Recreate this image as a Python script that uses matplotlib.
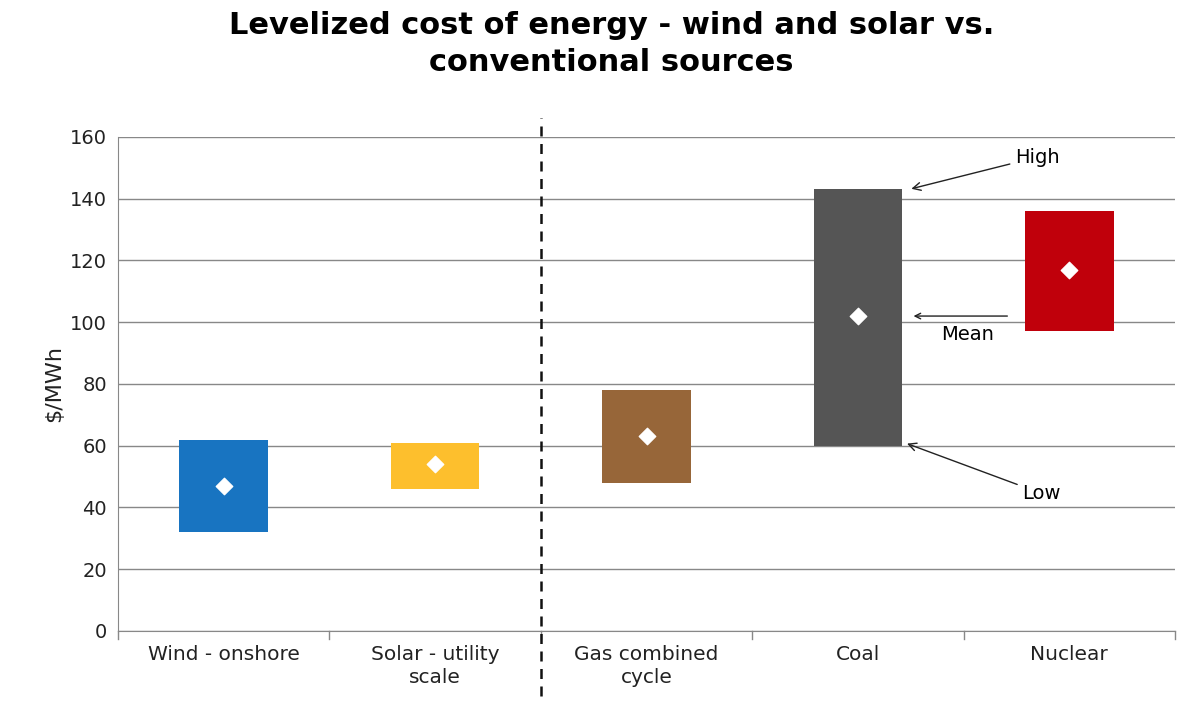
import matplotlib
matplotlib.use("Agg")
import matplotlib.pyplot as plt

categories = ["Wind - onshore", "Solar - utility\nscale", "Gas combined\ncycle", "Coal", "Nuclear"]
low = [32, 46, 48, 60, 97]
high = [62, 61, 78, 143, 136]
mean = [47, 54, 63, 102, 117]
colors = ["#1874C1", "#FDBF2D", "#976639", "#555555", "#C0000B"]

plt.rcParams['font.family'] = ['DejaVu Sans']
fig = plt.figure(figsize=(11.99, 7.19), dpi=100)
ax = fig.add_axes([0.0984, 0.1224, 0.8816, 0.6871])
x = list(range(len(categories)))
ax.bar(x, [h - l for h, l in zip(high, low)], bottom=low, width=0.42, color=colors, zorder=3)
ax.scatter(x, mean, marker="D", s=70, color="white", zorder=4)
ax.set_xlim(-0.5, 4.5)
ax.set_ylim(0, 160)
ax.set_yticks(range(0, 161, 20))
ax.yaxis.grid(True, color="#888888", lw=1)
ax.set_axisbelow(True)
for s in ["top", "right"]:
    ax.spines[s].set_visible(False)
ax.spines["left"].set_color("#888888")
ax.spines["bottom"].set_color("#888888")
ax.tick_params(axis="y", length=0, labelsize=14, colors="#222222", pad=8)
ax.tick_params(axis="x", length=0, labelsize=14.5, colors="#222222", pad=10)
ax.set_xticks(x)
ax.set_xticklabels(categories, linespacing=1.25)
for b in [-0.5, 0.5, 1.5, 2.5, 3.5, 4.5]:
    ax.plot([b, b], [0, -2.5], color="#888888", lw=1, clip_on=False)
ax.set_ylabel("$/MWh", fontsize=16, color="#222222")
ax.plot([1.5, 1.5], [-21, 166], ls=(0, (4, 3)), color="#111111", lw=1.8, clip_on=False)
fig.suptitle("Levelized cost of energy - wind and solar vs.\nconventional sources", fontsize=22,
             fontweight="bold", y=0.985, x=0.51, linespacing=1.35)
ap = dict(arrowstyle="->", color="#222222", lw=1)
ax.annotate("High", xy=(3.24, 143), xytext=(3.85, 153.5), fontsize=14, ha="center", va="center", arrowprops=ap)
ax.annotate("", xy=(3.25, 102), xytext=(3.72, 102), arrowprops=ap)
ax.text(3.52, 96, "Mean", fontsize=14, ha="center", va="center")
ax.annotate("Low", xy=(3.22, 61), xytext=(3.87, 44.5), fontsize=14, ha="center", va="center", arrowprops=ap)
fig.savefig("out.png", dpi=100)
